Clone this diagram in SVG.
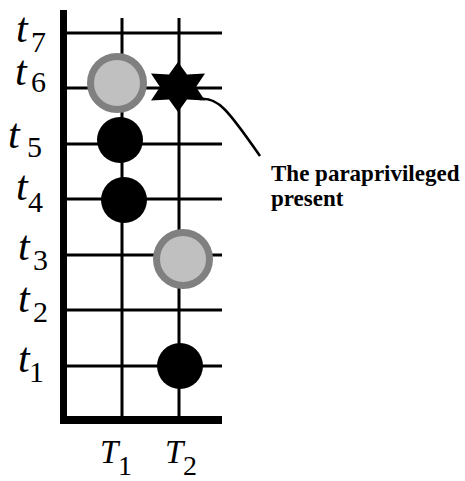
<svg xmlns="http://www.w3.org/2000/svg" width="465" height="481" viewBox="0 0 465 481">
<style>
.grid{stroke:#000;stroke-width:3;fill:none}
.axis{fill:#000}
.lbl{font-family:"Liberation Serif","Times New Roman",serif;fill:#000}
.var{font-style:italic;font-size:42px}
.sub{font-size:30px}
.subT{font-size:28px}
.varT{font-style:italic;font-size:33px}
.gray{fill:#c0c0c0;stroke:#808080;stroke-width:7}
.blk{fill:#000}
.note{font-family:"Liberation Serif","Times New Roman",serif;font-weight:bold;font-size:23px;fill:#000}
</style>
<rect width="465" height="481" fill="#fff"/>
<g id="grid">
<line class="grid" x1="122" y1="18" x2="122" y2="420"/>
<line class="grid" x1="179" y1="18" x2="179" y2="420"/>
<line class="grid" x1="64" y1="33" x2="222" y2="33"/>
<line class="grid" x1="64" y1="88" x2="222" y2="88"/>
<line class="grid" x1="64" y1="144" x2="222" y2="144"/>
<line class="grid" x1="64" y1="199" x2="222" y2="199"/>
<line class="grid" x1="64" y1="255" x2="222" y2="255"/>
<line class="grid" x1="64" y1="310" x2="222" y2="310"/>
<line class="grid" x1="64" y1="366" x2="222" y2="366"/>
<rect class="axis" x="60" y="10" width="7" height="414"/>
<rect class="axis" x="60" y="416" width="162" height="8"/>
</g>
<g id="labels" class="lbl">
<text x="16" y="42"><tspan class="var">t</tspan><tspan class="sub" x="31" y="52">7</tspan></text>
<text x="15" y="85"><tspan class="var">t</tspan><tspan class="sub" x="31" y="92">6</tspan></text>
<text x="8" y="148"><tspan class="var">t</tspan><tspan class="sub" x="27" y="157">5</tspan></text>
<text x="16" y="200"><tspan class="var">t</tspan><tspan class="sub" x="28" y="212">4</tspan></text>
<text x="18" y="260"><tspan class="var">t</tspan><tspan class="sub" x="33" y="270">3</tspan></text>
<text x="18" y="312"><tspan class="var">t</tspan><tspan class="sub" x="33" y="322">2</tspan></text>
<text x="18" y="372"><tspan class="var">t</tspan><tspan class="sub" x="29" y="382">1</tspan></text>
<text x="100" y="463"><tspan class="varT">T</tspan><tspan class="subT" x="118" y="475">1</tspan></text>
<text x="165" y="463"><tspan class="varT">T</tspan><tspan class="subT" x="183" y="475">2</tspan></text>
</g>
<g id="n-t6-T1"><circle class="gray" cx="117" cy="83" r="26.5"/></g>
<g id="n-t5-T1"><circle class="blk" cx="120" cy="140" r="23"/></g>
<g id="n-t4-T1"><circle class="blk" cx="124" cy="200" r="23"/></g>
<g id="n-t3-T2"><circle class="gray" cx="183" cy="259" r="26.5"/></g>
<g id="n-t1-T2"><circle class="blk" cx="180" cy="366" r="23"/></g>
<g id="n-star"><polygon class="blk" transform="translate(178,87)" points="0,-25 9,-12.5 27,-13.5 18,0 27,13.5 9,12.5 0,25 -9,12.5 -27,13.5 -18,0 -27,-13.5 -9,-12.5"/></g>
<g id="connectors"><path d="M200 99 C218 97 228 110 260 156" fill="none" stroke="#000" stroke-width="2.5"/></g>
<g id="note"><text class="note" x="271" y="181">The paraprivileged</text><text class="note" x="271" y="206">present</text></g>
</svg>
